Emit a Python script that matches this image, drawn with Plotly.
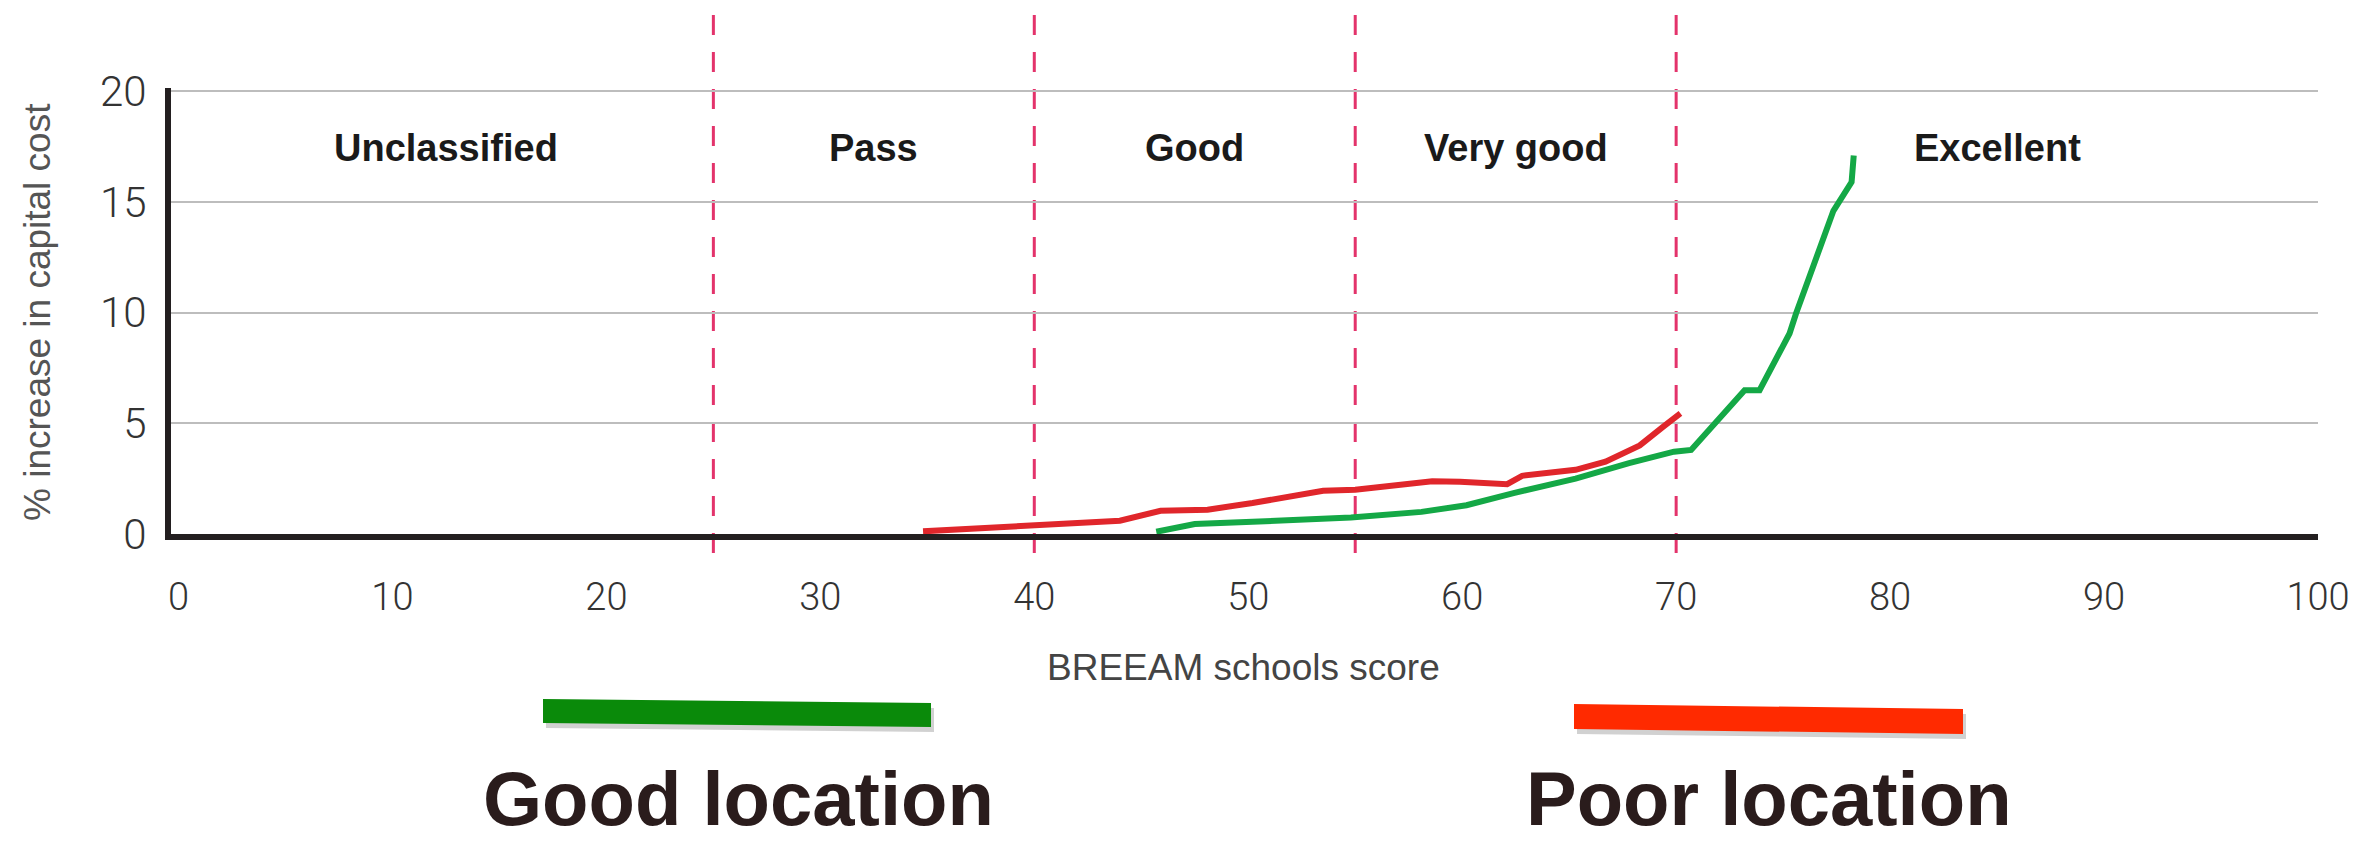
import plotly.graph_objects as go

# ---- data -------------------------------------------------------------
red_x = [34.8, 36.5, 40.0, 43.2, 44.0, 45.9, 48.1, 50.2, 51.9, 53.5, 55.0,
         57.0, 58.6, 59.9, 62.1, 62.8, 65.3, 66.7, 68.3, 69.4, 70.2]
red_y = [0.12, 0.2, 0.42, 0.57, 0.6, 1.05, 1.1, 1.4, 1.65, 1.95, 2.0,
         2.2, 2.38, 2.36, 2.25, 2.63, 2.9, 3.27, 4.0, 4.85, 5.45]

green_x = [45.7, 47.5, 50.2, 54.8, 58.1, 60.2, 62.4, 65.3, 67.8, 69.9, 70.7,
           73.2, 73.9, 75.3, 75.6, 77.35, 78.2, 78.3]
green_y = [0.1, 0.45, 0.55, 0.75, 1.0, 1.3, 1.85, 2.5, 3.2, 3.72, 3.8,
           6.5, 6.5, 9.06, 9.95, 14.6, 15.9, 17.1]

band_edges = [0, 25, 40, 55, 70, 100]
band_labels = ["Unclassified", "Pass", "Good", "Very good", "Excellent"]
band_label_y = 17.45
x_ticks = [0, 10, 20, 30, 40, 50, 60, 70, 80, 90, 100]
y_ticks = [0, 5, 10, 15, 20]
location_labels = ["Good location", "Poor location"]

# ---- layout geometry (pixels) ----------------------------------------
W, H = 2377, 843
L, R, T, B = 171, 59, 88, 309
plot_w = W - L - R
plot_h = H - T - B


def px2paper(px, py):
    return (px - L) / plot_w, (H - B - py) / plot_h


fig = go.Figure()

fig.add_trace(go.Scatter(x=red_x, y=red_y, mode="lines",
                         line=dict(color="#e0262b", width=6),
                         showlegend=False, hoverinfo="skip"))
fig.add_trace(go.Scatter(x=green_x, y=green_y, mode="lines",
                         line=dict(color="#14a846", width=6),
                         showlegend=False, hoverinfo="skip"))

shapes = []
# rating boundaries (dashed)
y_lo = px2paper(0, 553)[1]
y_hi = px2paper(0, 5)[1]
for xb in band_edges[1:-1]:
    shapes.append(dict(type="line", xref="x", yref="paper", x0=xb, x1=xb,
                       y0=y_lo, y1=y_hi, layer="below",
                       line=dict(color="#e3336b", width=3, dash="20px,17px")))


def quad(pts, color, opacity=1.0):
    path = "M " + " L ".join(f"{px2paper(x, y)[0]:.5f},{px2paper(x, y)[1]:.5f}"
                             for x, y in pts) + " Z"
    return dict(type="path", xref="paper", yref="paper", path=path,
                fillcolor=color, line=dict(width=0), opacity=opacity)


# location legend bars (with soft shadow)
g_pts = [(543, 699), (931, 703), (931, 727), (543, 723)]
r_pts = [(1574, 704), (1963, 709), (1963, 734), (1574, 729)]
for pts in (g_pts, r_pts):
    shapes.append(quad([(x + 3, y + 5) for x, y in pts], "#7a7a7a", 0.35))
shapes.append(quad(g_pts, "#0a8a0a"))
shapes.append(quad(r_pts, "#ff2a00"))

annotations = []
for i, lab in enumerate(band_labels):
    annotations.append(dict(x=(band_edges[i] + band_edges[i + 1]) / 2,
                            y=band_label_y, xref="x", yref="y", text=f"<b>{lab}</b>",
                            showarrow=False, xanchor="center", yanchor="middle",
                            font=dict(family="Liberation Sans", size=38, color="#1a1a1a")))

ax, ay = px2paper(37, 312)
annotations.append(dict(x=ax, y=ay, xref="paper", yref="paper",
                        text="% increase in capital cost", textangle=-90,
                        showarrow=False, xanchor="center", yanchor="middle",
                        font=dict(family="Liberation Sans", size=37, color="#555555")))
tx, ty = px2paper(1243, 667)
annotations.append(dict(x=tx, y=ty, xref="paper", yref="paper",
                        text="BREEAM schools score", showarrow=False,
                        xanchor="center", yanchor="middle",
                        font=dict(family="Liberation Sans", size=37, color="#444444")))
for lab, cx in zip(location_labels, (738, 1769)):
    lx, ly = px2paper(cx, 842)
    annotations.append(dict(x=lx, y=ly, xref="paper", yref="paper",
                            text=f"<b>{lab}</b>", showarrow=False,
                            xanchor="center", yanchor="bottom", borderpad=0,
                            font=dict(family="Liberation Sans", size=76, color="#2a1c1c")))

fig.update_layout(
    width=W, height=H,
    margin=dict(l=L, r=R, t=T, b=B, pad=0),
    paper_bgcolor="white", plot_bgcolor="white",
    shapes=shapes, annotations=annotations,
    xaxis=dict(range=[-0.35, 100], tickvals=x_ticks, showgrid=False,
               zeroline=False, showline=True, linewidth=6, linecolor="#231f20",
               ticks="", ticklabelstandoff=24,
               tickfont=dict(family="Roboto", weight=300, size=38, color="#333333")),
    yaxis=dict(range=[0, 20.15], tickvals=y_ticks, showgrid=True,
               gridcolor="#bdbdbd", gridwidth=2,
               zeroline=False, showline=True, linewidth=6, linecolor="#231f20",
               ticks="", ticklabelstandoff=10,
               tickfont=dict(family="Roboto", weight=300, size=42, color="#333333")),
)

fig.write_html("out.html", config={"displayModeBar": False},
               post_script="document.body.style.margin='0';document.body.style.padding='0';")
